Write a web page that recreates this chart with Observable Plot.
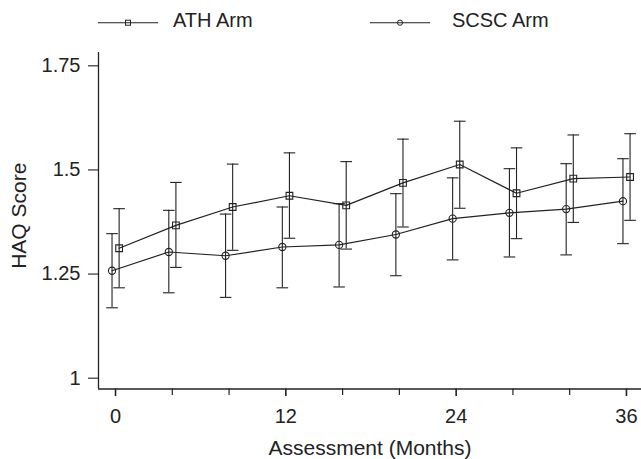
<!DOCTYPE html>
<html>
<head>
<meta charset="utf-8">
<script src="https://cdn.jsdelivr.net/npm/d3@7"></script>
<script src="https://cdn.jsdelivr.net/npm/@observablehq/plot@0.6"></script>
<style>
  html, body { margin: 0; padding: 0; background: #fff; }
  body { width: 641px; height: 459px; overflow: hidden; font-family: "Liberation Sans", Arial, sans-serif; color: #222; }
  #legend { position: relative; height: 40px; width: 641px; }
  #legend .sym { position: absolute; }
  #legend .lab { position: absolute; font-size: 20px; line-height: 20px; top: 10px; white-space: nowrap; }
</style>
</head>
<body>
<div id="legend">
  <svg class="sym" style="left:96px;top:13px" width="64" height="20">
    <line x1="2" x2="62" y1="9.7" y2="9.7" stroke="#222" stroke-width="1.1"/>
    <rect x="29.5" y="7.2" width="5" height="5" fill="none" stroke="#222" stroke-width="1"/>
  </svg>
  <span class="lab" style="left:173px">ATH Arm</span>
  <svg class="sym" style="left:368px;top:13px" width="64" height="20">
    <line x1="2" x2="62" y1="9.7" y2="9.7" stroke="#222" stroke-width="1.1"/>
    <circle cx="32" cy="9.7" r="2.6" fill="none" stroke="#222" stroke-width="1"/>
  </svg>
  <span class="lab" style="left:452px">SCSC Arm</span>
</div>
<div id="chart"></div>
<script>
const months = [0, 4, 8, 12, 16, 20, 24, 28, 32, 36];

const scscMean = [1.258, 1.303, 1.294, 1.315, 1.320, 1.345, 1.383, 1.397, 1.406, 1.425];
const scscHi   = [1.347, 1.403, 1.394, 1.411, 1.419, 1.443, 1.481, 1.503, 1.515, 1.527];
const scscLo   = [1.169, 1.205, 1.194, 1.217, 1.219, 1.246, 1.284, 1.291, 1.296, 1.323];

const athMean = [1.312, 1.367, 1.411, 1.438, 1.415, 1.469, 1.513, 1.444, 1.479, 1.483];
const athHi   = [1.407, 1.470, 1.514, 1.541, 1.520, 1.574, 1.617, 1.553, 1.584, 1.587];
const athLo   = [1.217, 1.266, 1.307, 1.336, 1.310, 1.363, 1.408, 1.335, 1.374, 1.379];

const majorTicks = [0, 12, 24, 36];
const minorTicks = [4, 8, 16, 20, 28, 32];
const yTicks = [1, 1.25, 1.5, 1.75];
const xDomain = [-1.2, 37.06];
const yDomain = [0.974, 1.782];
const xTitle = "Assessment (Months)";
const yTitle = "HAQ Score";

const scsc = months.map((x, i) => ({x, y: scscMean[i], hi: scscHi[i], lo: scscLo[i]}));
const ath = months.map((x, i) => ({x, y: athMean[i], hi: athHi[i], lo: athLo[i]}));

const ink = "#222";
const cap = {
  draw(ctx, size) {
    const w = Math.sqrt(size / Math.PI);
    ctx.moveTo(-w, 0);
    ctx.lineTo(w, 0);
  }
};

function series(data, symbol, r, dx) {
  return [
    Plot.ruleX(data, {x: "x", y1: "lo", y2: "hi", dx, stroke: ink, strokeWidth: 1.1}),
    Plot.dot(data, {x: "x", y: "hi", dx, symbol: cap, r: 5.8, stroke: ink, strokeWidth: 1.1}),
    Plot.dot(data, {x: "x", y: "lo", dx, symbol: cap, r: 5.8, stroke: ink, strokeWidth: 1.1}),
    Plot.line(data, {x: "x", y: "y", dx, stroke: ink, strokeWidth: 1.2}),
    Plot.dot(data, {x: "x", y: "y", dx, symbol, r, fill: "none", stroke: ink, strokeWidth: 1.1})
  ];
}

const chart = Plot.plot({
  width: 641,
  height: 419,
  marginLeft: 98,
  marginRight: 0,
  marginTop: 12,
  marginBottom: 70.5,
  style: {fontFamily: "'Liberation Sans', Arial, sans-serif", fontSize: "20px", color: ink, background: "#fff"},
  x: {domain: xDomain},
  y: {domain: yDomain},
  marks: [
    Plot.axisX({ticks: minorTicks, tickSize: 6.5, label: null, stroke: ink, strokeWidth: 1.2, text: null}),
    Plot.axisX({ticks: majorTicks, tickSize: 7.5, tickPadding: 12.5, tickFormat: d => String(d), label: null, stroke: ink, strokeWidth: 1.6, fill: ink, fontSize: 20}),
    Plot.axisY({ticks: yTicks, tickSize: 10, tickPadding: 8, tickFormat: d => String(d), label: null, stroke: ink, strokeWidth: 1.1, fill: ink, fontSize: 20}),
    Plot.ruleY([yDomain[0]], {stroke: ink, strokeWidth: 1.3}),
    Plot.ruleX([xDomain[0]], {stroke: ink, strokeWidth: 1.3}),
    ...series(scsc, "circle", 3.6, -3.5),
    ...series(ath, "square", 3.8, 3.6),
    Plot.text([xTitle], {frameAnchor: "bottom", lineAnchor: "middle", textAnchor: "middle", dy: 59, text: d => d, fontSize: 21, fill: ink}),
    Plot.text([yTitle], {frameAnchor: "left", lineAnchor: "middle", textAnchor: "middle", rotate: -90, dx: -79, dy: -5, text: d => d, fontSize: 21, fill: ink})
  ]
});
document.getElementById("chart").appendChild(chart);
</script>
</body>
</html>
